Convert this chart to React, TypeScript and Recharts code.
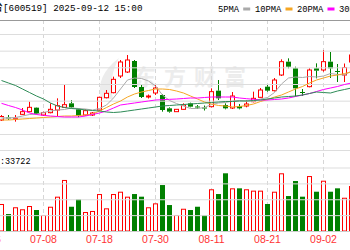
import { ComposedChart, Bar, Line, XAxis, YAxis, CartesianGrid, ReferenceLine } from 'recharts'

// two leading sessions sit off-screen; only their tick label peeks in
const leadDates = ['06-26', '06-27']
const dates = [
  '06-30', '07-01', '07-02', '07-03', '07-04', '07-07', '07-08', '07-09', '07-10', '07-11',
  '07-14', '07-15', '07-16', '07-17', '07-18', '07-21', '07-22', '07-23', '07-24', '07-25',
  '07-28', '07-29', '07-30', '07-31', '08-01', '08-04', '08-05', '08-06', '08-07', '08-08',
  '08-11', '08-12', '08-13', '08-14', '08-15', '08-18', '08-19', '08-20', '08-21', '08-22',
  '08-25', '08-26', '08-27', '08-28', '08-29', '09-01', '09-02', '09-03', '09-04', '09-05', '09-08',
]
const opens = [
  1417.4, 1421.0, 1419.0, 1424.2, 1427.4, 1432.2, 1423.4, 1426.2, 1429.4, 1432.6,
  1437.4, 1430.2, 1423.4, 1423.4, 1429.4, 1444.2, 1450.2, 1470.2, 1475.0, 1488.2,
  1457.0, 1445.0, 1449.8, 1447.4, 1431.4, 1427.4, 1430.2, 1437.4, 1433.6, 1432.4,
  1433.4, 1452.6, 1435.4, 1431.8, 1434.2, 1434.2, 1439.4, 1444.6, 1457.4, 1452.6,
  1471.4, 1487.4, 1479.4, 1451.0, 1457.4, 1479.4, 1477.4, 1487.4, 1476.2, 1471.4, 1487.0,
]
const closes = [
  1421.6, 1419.2, 1419.8, 1427.4, 1432.6, 1424.6, 1426.2, 1430.2, 1434.6, 1435.8,
  1432.6, 1422.6, 1428.6, 1425.8, 1444.6, 1449.4, 1466.2, 1487.0, 1489.4, 1457.0,
  1445.0, 1446.2, 1455.8, 1429.4, 1427.4, 1430.2, 1435.4, 1433.4, 1432.4, 1431.2,
  1451.4, 1443.4, 1431.4, 1446.2, 1431.4, 1436.6, 1443.4, 1453.4, 1452.6, 1465.4,
  1487.4, 1481.4, 1455.4, 1449.8, 1477.4, 1476.6, 1487.4, 1479.4, 1475.0, 1480.4, 1495.4,
]
const highs = [
  1423.4, 1423.4, 1423.4, 1431.8, 1439.4, 1432.6, 1427.4, 1437.4, 1443.4, 1460.6,
  1441.4, 1431.0, 1430.2, 1427.0, 1445.4, 1453.4, 1469.4, 1489.4, 1495.4, 1489.4,
  1459.4, 1448.0, 1460.6, 1448.6, 1432.6, 1430.6, 1437.4, 1438.2, 1435.4, 1434.8,
  1455.4, 1465.4, 1437.4, 1451.0, 1436.6, 1441.4, 1451.4, 1455.8, 1459.4, 1467.8,
  1490.2, 1491.4, 1481.4, 1454.6, 1479.4, 1485.4, 1501.4, 1499.0, 1484.6, 1485.2, 1499.0,
]
const lows = [
  1416.2, 1417.4, 1415.4, 1423.4, 1426.6, 1424.2, 1422.2, 1425.4, 1422.2, 1432.4,
  1431.4, 1420.6, 1422.6, 1422.2, 1428.6, 1443.4, 1449.4, 1467.8, 1473.8, 1455.8,
  1443.8, 1443.2, 1447.4, 1427.4, 1426.2, 1427.0, 1429.4, 1432.6, 1430.6, 1428.8,
  1432.6, 1441.4, 1430.2, 1430.6, 1430.2, 1432.6, 1438.6, 1443.8, 1451.4, 1451.6,
  1470.2, 1479.4, 1445.4, 1446.2, 1456.6, 1467.4, 1475.4, 1467.8, 1463.0, 1463.0, 1484.6,
]
const volumes = [
  26000, 16500, 22900, 21000, 24100, 20300, 15600, 23400, 32900, 48700,
  23400, 30400, 18400, 19400, 35400, 21900, 35400, 37600, 32900, 35400,
  32900, 22900, 26600, 43900, 25000, 15600, 21500, 20300, 23400, 15600,
  39900, 35400, 55000, 40800, 40800, 39900, 38600, 38600, 26000, 37600,
  55000, 33500, 47700, 32900, 52400, 37600, 48000, 37600, 40800, 31900, 43000,
]
const ma5 = [
  1419.8, 1419.8, 1420.4, 1422.2, 1424.0, 1424.6, 1426.4, 1428.2, 1429.4, 1430.0,
  1431.8, 1431.2, 1430.6, 1429.4, 1431.2, 1435.4, 1443.8, 1454.6, 1465.4, 1467.8,
  1467.2, 1464.2, 1458.2, 1447.4, 1440.8, 1437.2, 1434.2, 1431.2, 1431.2, 1432.4,
  1436.0, 1437.8, 1438.4, 1440.2, 1440.8, 1440.2, 1440.2, 1442.6, 1444.4, 1450.4,
  1460.6, 1467.8, 1469.0, 1468.4, 1469.6, 1469.0, 1470.2, 1473.2, 1472.0, 1471.4, 1476.2,
]
const ma10 = [
  1417.4, 1417.4, 1418.0, 1418.6, 1419.2, 1419.8, 1420.4, 1421.0, 1421.6, 1422.2,
  1422.2, 1422.8, 1423.4, 1424.6, 1428.2, 1432.4, 1436.6, 1440.2, 1445.0, 1448.6,
  1451.0, 1452.8, 1454.6, 1454.6, 1454.0, 1452.2, 1449.8, 1446.2, 1442.6, 1439.0,
  1436.6, 1434.8, 1434.2, 1433.0, 1433.6, 1434.8, 1436.6, 1439.6, 1442.0, 1445.0,
  1447.4, 1451.0, 1454.6, 1457.6, 1461.8, 1465.4, 1467.8, 1470.2, 1471.4, 1473.2, 1475.0,
]
const ma20 = [
  1437.4, 1434.8, 1432.4, 1429.4, 1425.8, 1424.0, 1423.0, 1422.2, 1421.6, 1421.0,
  1421.0, 1421.0, 1422.2, 1424.0, 1425.8, 1428.2, 1431.8, 1435.4, 1436.6, 1437.8,
  1439.0, 1440.2, 1441.4, 1441.8, 1442.2, 1442.6, 1443.2, 1443.8, 1443.8, 1444.4,
  1445.0, 1445.0, 1445.0, 1445.0, 1443.8, 1443.0, 1442.2, 1441.4, 1441.4, 1442.0,
  1442.6, 1443.8, 1445.6, 1447.4, 1449.2, 1451.6, 1454.0, 1455.8, 1457.6, 1460.0, 1461.8,
]
const ma30 = [
  1464.8, 1461.8, 1458.8, 1454.6, 1450.4, 1446.2, 1442.6, 1437.8, 1434.2, 1432.4,
  1431.2, 1430.6, 1429.4, 1428.8, 1428.2, 1427.0, 1426.4, 1427.0, 1428.2, 1429.4,
  1430.6, 1431.8, 1433.0, 1434.2, 1434.8, 1435.4, 1436.0, 1436.6, 1437.2, 1437.8,
  1438.4, 1439.0, 1439.6, 1439.6, 1440.2, 1440.2, 1440.8, 1441.4, 1442.6, 1443.8,
  1445.0, 1445.6, 1446.2, 1447.4, 1449.2, 1451.0, 1450.4, 1449.8, 1452.2, 1454.0, 1455.8,
]
const tickDates = ['06-26', '07-08', '07-18', '07-30', '08-11', '08-21', '09-02']
const priceGrid = [1400, 1420, 1440, 1460, 1480, 1500, 1520]
const volGrid = [15000, 30000, 45000, 60000]
const maNames = ['5PMA', '10PMA', '20PMA', '30PMA']
const maColors = ['#aaaaaa', '#f5a623', '#ff00ff', '#2e8b57']
const lastVolume = 33722

const RED = '#ff0000'
const GREEN = '#008000'
const MONO = "'Liberation Mono', 'Noto Sans CJK SC', monospace"

const rows = [
  ...leadDates.map((date) => ({ date } as any)),
  ...dates.map((date, i) => ({
    date,
    open: opens[i],
    close: closes[i],
    high: highs[i],
    low: lows[i],
    vol: volumes[i],
    ma5: ma5[i],
    ma10: ma10[i],
    ma20: ma20[i],
    ma30: ma30[i],
  })),
]

function Candle(props: any) {
  const { x, y, width, height, payload } = props
  if (payload == null || payload.high == null) return <g />
  const top = Math.min(y, y + height)
  const bot = Math.max(y, y + height)
  const span = payload.high - payload.low || 1
  const toY = (v: number) => top + ((payload.high - v) / span) * (bot - top)
  const cx = x + width / 2
  const up = payload.close >= payload.open
  const yo = toY(payload.open)
  const yc = toY(payload.close)
  const bodyTop = Math.min(yo, yc)
  const bodyH = Math.max(Math.abs(yo - yc), 1)
  const color = up ? RED : GREEN
  return (
    <g>
      <line x1={cx} x2={cx} y1={top} y2={bodyTop} stroke={color} />
      <line x1={cx} x2={cx} y1={bodyTop + bodyH} y2={bot} stroke={color} />
      {up ? (
        <rect x={x + 0.5} y={bodyTop} width={width - 1} height={bodyH} fill="#fff" stroke={color} />
      ) : (
        <rect x={x} y={bodyTop} width={width} height={bodyH} fill={color} />
      )}
    </g>
  )
}

function VolBar(props: any) {
  const { x, y, width, height, payload } = props
  if (payload == null || payload.vol == null) return <g />
  const up = payload.close >= payload.open
  if (up) {
    return <rect x={x + 0.5} y={y + 0.5} width={width - 1} height={Math.max(height - 1, 0)} fill="#fff" stroke={RED} />
  }
  return <rect x={x} y={y} width={width} height={height} fill={GREEN} />
}

export default function App() {
  const legendX = [218, 255, 297, 339]
  return (
    <div style={{ position: 'fixed', left: 0, top: 0, width: 350, height: 250, overflow: 'hidden', background: '#fff' }}>
      <svg width={350} height={250} style={{ position: 'absolute', left: 0, top: 0 }}>
        <path d="M101 99 Q95 76 119 58 Q108 78 113 99 Z" fill="#ececec" />
        <text x={134} y={85} fontSize={22} fontWeight="bold" letterSpacing={8} fill="#ececec" fontFamily="'Noto Sans CJK SC'">
          东方财富
        </text>
      </svg>
      <div style={{ position: 'absolute', left: -16, top: 0 }}>
        <ComposedChart width={371} height={252} data={rows} margin={{ top: 20, right: 0, bottom: 0.5, left: 0 }} barGap={-5}>
          <CartesianGrid yAxisId="p" horizontal={false} stroke="#d6d6d6" strokeDasharray="4 3" />
          <XAxis
            dataKey="date"
            ticks={tickDates}
            interval={0}
            height={20}
            tickLine={false}
            tickSize={0}
            tickMargin={4}
            axisLine={{ stroke: '#cccccc' }}
            tick={{ fill: '#ff3333', fontSize: 10.5, fontFamily: 'Liberation Sans' }}
          />
          <YAxis yAxisId="p" hide domain={[1283.6, 1537.4]} allowDataOverflow />
          <YAxis yAxisId="v" hide domain={[0, 199867.5]} allowDataOverflow />
          {priceGrid.map((v) => (
            <ReferenceLine key={'p' + v} yAxisId="p" y={v} stroke="#dddddd" />
          ))}
          {volGrid.map((v) => (
            <ReferenceLine key={'v' + v} yAxisId="v" y={v} stroke="#dddddd" />
          ))}
          <Bar yAxisId="v" dataKey="vol" barSize={5} shape={<VolBar />} isAnimationActive={false} />
          <Bar
            yAxisId="p"
            dataKey={(d: any) => (d.high == null ? null : [d.low, d.high])}
            barSize={5}
            shape={<Candle />}
            isAnimationActive={false}
          />
          <Line yAxisId="p" dataKey="ma5" stroke={maColors[0]} dot={false} activeDot={false} isAnimationActive={false} />
          <Line yAxisId="p" dataKey="ma10" stroke={maColors[1]} dot={false} activeDot={false} isAnimationActive={false} />
          <Line yAxisId="p" dataKey="ma20" stroke={maColors[2]} dot={false} activeDot={false} isAnimationActive={false} />
          <Line yAxisId="p" dataKey="ma30" stroke={maColors[3]} dot={false} activeDot={false} isAnimationActive={false} />
        </ComposedChart>
      </div>
      <svg width={350} height={250} style={{ position: 'absolute', left: 0, top: 0 }}>
        <line x1={0} x2={350} y1={20.5} y2={20.5} stroke="#999999" />
        <line x1={0} x2={350} y1={150.5} y2={150.5} stroke="#dddddd" />
        <text x={3} y={11} textAnchor="end" fontSize={11} fill="#000" fontFamily="'Noto Sans CJK SC'">
          贵州茅台
        </text>
        <text x={3} y={11} fontSize={9.3} fill="#000" fontFamily={MONO}>
          [600519] 2025-09-12 15:00
        </text>
        {maNames.map((name, k) => (
          <g key={name}>
            <text x={legendX[k]} y={11.5} fontSize={8.8} fill="#000" fontFamily={MONO}>
              {name}
            </text>
            <rect x={legendX[k] + name.length * 5.3 + 4} y={7.5} width={7} height={3} fill={maColors[k]} />
          </g>
        ))}
        <text x={5} y={164} textAnchor="end" fontSize={8.5} fill="#000" fontFamily={MONO}>
          成交量:
        </text>
        <text x={5} y={164} fontSize={8.5} fill="#000" fontFamily={MONO}>
          {lastVolume}
        </text>
      </svg>
    </div>
  )
}
